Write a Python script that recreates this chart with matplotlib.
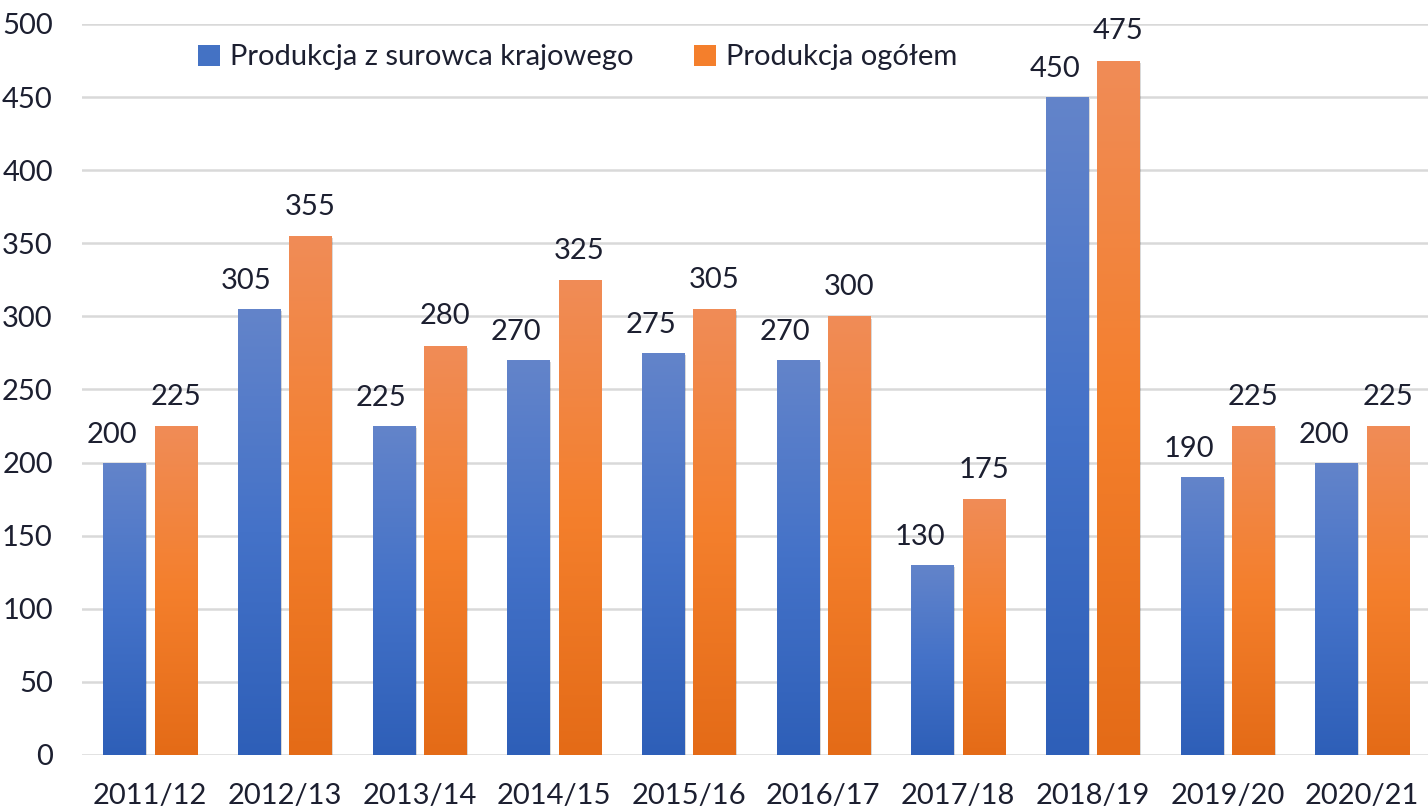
import numpy as np
import matplotlib
matplotlib.use("Agg")
import matplotlib.pyplot as plt
from matplotlib.colors import LinearSegmentedColormap
from matplotlib.patches import Patch

categories = ["2011/12", "2012/13", "2013/14", "2014/15", "2015/16",
              "2016/17", "2017/18", "2018/19", "2019/20", "2020/21"]
domestic = [200, 305, 225, 270, 275, 270, 130, 450, 190, 200]
total = [225, 355, 280, 325, 305, 300, 175, 475, 225, 225]
series_names = ["Produkcja z surowca krajowego", "Produkcja ogółem"]

plt.rcParams['font.family'] = ['Lato', 'DejaVu Sans']
text_color = '#1c1f30'

fig = plt.figure(figsize=(14.28, 8.1), dpi=100)
ax = fig.add_axes([0.0574, 0.068, 0.9426, 0.9024])

x = np.arange(len(categories))
w = 0.312
off = 0.19

blue_cmap = LinearSegmentedColormap.from_list("b", ["#2e5fb8", "#4472c8", "#6384ca"])
orange_cmap = LinearSegmentedColormap.from_list("o", ["#e46b17", "#f47f2c", "#f08c57"])
grad = np.linspace(0, 1, 256).reshape(-1, 1)

def gradient_bars(xpos, vals, cmap, base_color):
    bars = ax.bar(xpos, vals, w, color=base_color, zorder=2, linewidth=0)
    for b in bars:
        sh = plt.Rectangle((b.get_x() + 0.014, 0), b.get_width(), b.get_height() - 1.5,
                           facecolor='#000000', alpha=0.15, zorder=1.5, linewidth=0)
        ax.add_patch(sh)
        im = ax.imshow(grad, cmap=cmap, aspect='auto', origin='lower',
                       extent=[b.get_x(), b.get_x() + b.get_width(), 0, b.get_height()],
                       zorder=2.1)
        im.set_clip_path(b)
    return bars

bars_b = gradient_bars(x - off, domestic, blue_cmap, "#4472c4")
bars_o = gradient_bars(x + off, total, orange_cmap, "#f47f2c")

for xi, v in zip(x - off, domestic):
    ax.annotate(f"{v}", (xi, v), xytext=(-9, 20), textcoords='offset points',
                ha='center', va='center', fontsize=21, color=text_color)
for xi, v in zip(x + off, total):
    ax.annotate(f"{v}", (xi, v), xytext=(0, 21), textcoords='offset points',
                ha='center', va='center', fontsize=21, color=text_color)

ax.set_xlim(-0.505, 9.49)
ax.set_ylim(0, 500)
ax.set_yticks(np.arange(0, 501, 50))
ax.set_xticks(x)
ax.set_xticklabels(categories)
ax.tick_params(axis='both', length=0, labelsize=21, labelcolor=text_color)
ax.tick_params(axis='x', pad=20)
ax.tick_params(axis='y', pad=21)
ax.grid(axis='y', color='#d9d9d9', linewidth=1.8, zorder=0)
ax.set_axisbelow(True)
for s in ax.spines.values():
    s.set_visible(False)

handles = [Patch(facecolor="#4472c4", edgecolor='none'),
           Patch(facecolor="#f47f2c", edgecolor='none')]
leg = ax.legend(handles, series_names, loc='upper left', bbox_to_anchor=(0.067, 1.008),
                ncol=2, frameon=False, fontsize=21, handlelength=0.75, handleheight=0.75,
                handletextpad=0.35, columnspacing=2.05, labelcolor=text_color)

fig.savefig("out.png", dpi=100)
